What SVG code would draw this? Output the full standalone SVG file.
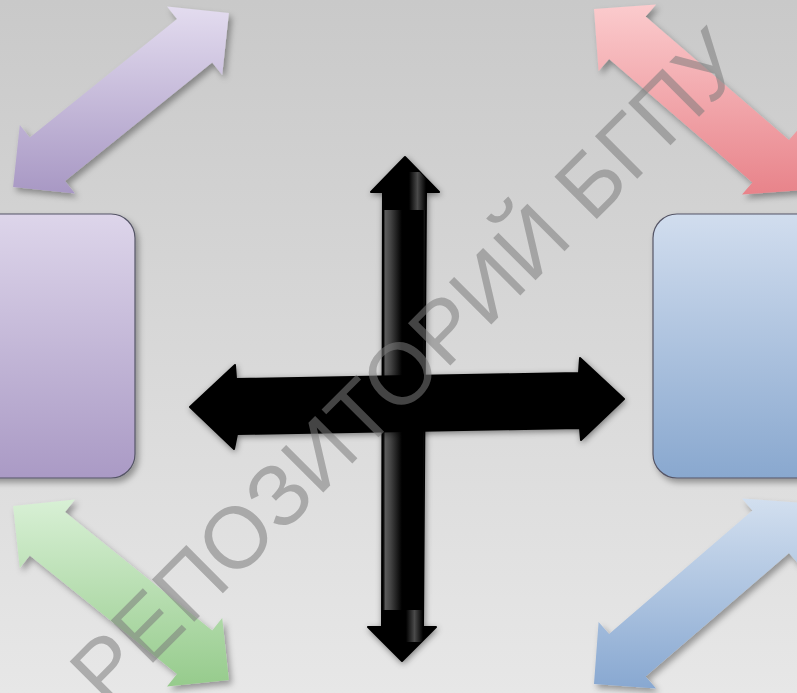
<svg xmlns="http://www.w3.org/2000/svg" width="797" height="693" viewBox="0 0 797 693">
  <defs>
    <linearGradient id="bg" x1="0" y1="0" x2="0" y2="1">
      <stop offset="0" stop-color="#c9c9c9"/>
      <stop offset="1" stop-color="#e7e7e7"/>
    </linearGradient>
    <linearGradient id="gPurple" x1="0" y1="0" x2="0" y2="1">
      <stop offset="0" stop-color="#e3dcef"/>
      <stop offset="1" stop-color="#a898c4"/>
    </linearGradient>
    <linearGradient id="gRed" x1="0" y1="0" x2="0" y2="1">
      <stop offset="0" stop-color="#fbcbcd"/>
      <stop offset="1" stop-color="#e8838a"/>
    </linearGradient>
    <linearGradient id="gGreen" x1="0" y1="0" x2="0" y2="1">
      <stop offset="0" stop-color="#d8f0d5"/>
      <stop offset="1" stop-color="#96cb8c"/>
    </linearGradient>
    <linearGradient id="gBlue" x1="0" y1="0" x2="0" y2="1">
      <stop offset="0" stop-color="#d2dfef"/>
      <stop offset="1" stop-color="#88a8d1"/>
    </linearGradient>
    <linearGradient id="gBoxPurple" x1="0" y1="0" x2="0" y2="1">
      <stop offset="0" stop-color="#ddd5ea"/>
      <stop offset="1" stop-color="#aa9ac5"/>
    </linearGradient>
    <linearGradient id="gBoxBlue" x1="0" y1="0" x2="0" y2="1">
      <stop offset="0" stop-color="#d1ddee"/>
      <stop offset="1" stop-color="#89a8cf"/>
    </linearGradient>
    <linearGradient id="gShaft" x1="0" y1="0" x2="1" y2="0">
      <stop offset="0" stop-color="#000"/>
      <stop offset="0.06" stop-color="#5a5a5a"/>
      <stop offset="0.18" stop-color="#444"/>
      <stop offset="0.45" stop-color="#000"/>
      <stop offset="0.95" stop-color="#000"/>
      <stop offset="1" stop-color="#1a1a1a"/>
    </linearGradient>
    <linearGradient id="gHead" x1="0" y1="0" x2="1" y2="0">
      <stop offset="0" stop-color="#000"/>
      <stop offset="0.5" stop-color="#4a4a4a"/>
      <stop offset="1" stop-color="#000"/>
    </linearGradient>
    <filter id="shadow" x="-20%" y="-20%" width="140%" height="140%">
      <feDropShadow dx="3" dy="4" stdDeviation="3" flood-color="#000" flood-opacity="0.35"/>
    </filter>
    <filter id="shadowSoft" x="-20%" y="-20%" width="140%" height="140%">
      <feDropShadow dx="1" dy="2" stdDeviation="3" flood-color="#000" flood-opacity="0.45"/>
    </filter>
    <clipPath id="clipV">
      <polygon points="405,157 439,192 426,192 423,627 436,627 402,661 368,627 382,627 383,192 371,192"/>
    </clipPath>
  </defs>
  <style>
    .box { stroke: #555566; stroke-width: 1.2; filter: url(#shadow); }
    .arrow { filter: url(#shadow); }
    .cross { fill: #000; stroke: #000; stroke-width: 2; stroke-linejoin: round; }
    .wm { font-family: "Liberation Sans", Arial, sans-serif; font-size: 87px; fill: #7c7c7c; fill-opacity: 0.55; }
  </style>

  <rect x="0" y="0" width="797" height="693" fill="url(#bg)"/>

  <g id="connectors">
    <polygon class="arrow" fill="url(#gPurple)" points="228.9,13.1 222.2,75 212.2,62.5 65,181.1 75,193.6 13.1,186.9 19.8,125 29.8,137.5 177,18.9 167,6.4"/>
    <polygon class="arrow" fill="url(#gGreen)" points="228.9,679.9 222.2,618 212.2,630.5 65,511.9 75,499.4 13.1,506.1 19.8,568 29.8,555.5 177,674.1 167,686.6"/>
    <polygon class="arrow" fill="url(#gRed)" points="804,190 799.4,127.9 789,140.1 645.6,16.5 656.1,4.4 594,9 598.6,71.1 609.1,58.9 752.4,182.5 742,194.6"/>
    <polygon class="arrow" fill="url(#gBlue)" points="804,503 799.4,565.1 789,552.9 645.6,676.5 656.1,688.6 594,684 598.6,621.9 609.1,634.1 752.4,510.5 742,498.4"/>
  </g>

  <g id="box-left">
    <rect class="box" x="-40" y="214" width="175" height="264" rx="24" ry="24" fill="url(#gBoxPurple)"/>
  </g>
  <g id="box-right">
    <rect class="box" x="653" y="214" width="190" height="264" rx="24" ry="24" fill="url(#gBoxBlue)"/>
  </g>

  <g id="cross">
    <g filter="url(#shadowSoft)">
      <polygon class="cross" points="405,157 439,192 426,192 423,627 436,627 402,661 368,627 382,627 383,192 371,192"/>
    </g>
    <g clip-path="url(#clipV)">
      <polygon points="384,210 425,210 423,610 383,610" fill="url(#gShaft)"/>
      <rect x="409" y="172" width="17" height="38" fill="url(#gHead)"/>
      <rect x="406" y="610" width="17" height="32" fill="url(#gHead)"/>
    </g>
    <g filter="url(#shadowSoft)">
      <polygon class="cross" points="190,407 235,365 236,379 579,373 580,358 624,399 581,440 580,428 237,434 234,449"/>
    </g>
  </g>

  <g id="watermark">
    <text class="wm" x="406" y="397" text-anchor="middle" transform="rotate(-45 406 366)">РЕПОЗИТОРИЙ БГПУ</text>
  </g>
</svg>
